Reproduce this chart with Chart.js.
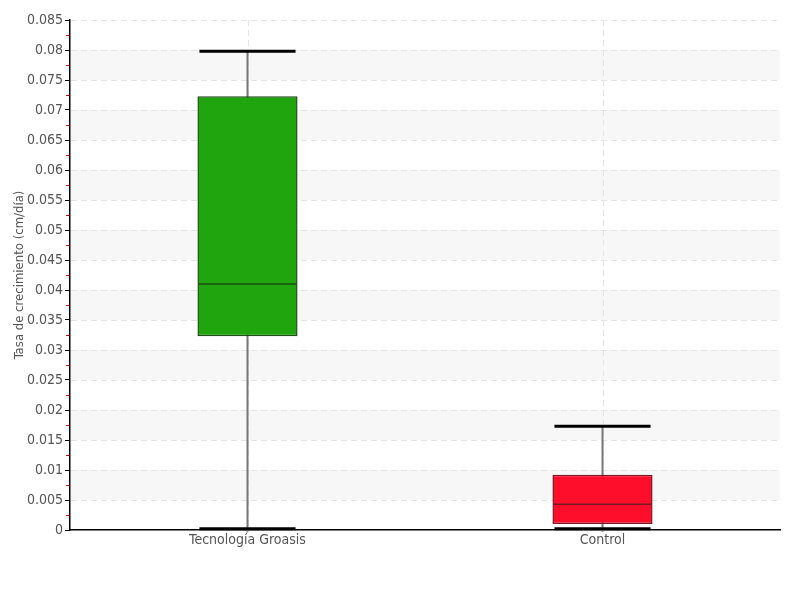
<!DOCTYPE html>
<html>
<head>
<meta charset="utf-8">
<script src="https://cdn.jsdelivr.net/npm/chart.js@4/dist/chart.umd.min.js"></script>
<style>
  html, body { margin: 0; padding: 0; background: #fff; }
  #wrap { width: 800px; height: 600px; }
</style>
</head>
<body>
<div id="wrap"><canvas id="boxChart" width="800" height="600"></canvas></div>
<script>
// box plot values
const categories = ["Tecnología Groasis", "Control"];
const minValues = [0.0002, 0.0002];
const q1Values = [0.0323, 0.0010];
const medianValues = [0.0410, 0.0043];
const q3Values = [0.0723, 0.0092];
const maxValues = [0.0798, 0.0173];
const boxColors = ["#21a50f", "#ff0e2b"];
const boxBorders = ["#1d4f16", "#7a1622"];

const yMin = 0, yMax = 0.085, yStep = 0.005;

const FONT = "'Liberation Sans Narrow', 'DejaVu Sans Condensed', 'Roboto', sans-serif";

// alternating grey bands + red minor ticks
const bandsPlugin = {
  id: "bands",
  beforeDatasetsDraw(chart) {
    const ctx = chart.ctx, area = chart.chartArea, y = chart.scales.y;
    ctx.save();
    ctx.fillStyle = "#f7f7f7";
    for (let v = 0.005; v < yMax - 1e-9; v += 0.01) {
      const top = y.getPixelForValue(v + yStep);
      const bot = y.getPixelForValue(v);
      ctx.fillRect(area.left + 1, top, area.right - area.left - 1, bot - top);
    }
    // dashed grid on top of bands
    ctx.strokeStyle = "#e4e4e4";
    ctx.lineWidth = 1;
    ctx.setLineDash([6, 4]);
    for (let v = yStep; v <= yMax + 1e-9; v += yStep) {
      const py = Math.round(y.getPixelForValue(v)) + 0.5;
      ctx.beginPath();
      ctx.moveTo(area.left + 1, py);
      ctx.lineTo(area.right, py);
      ctx.stroke();
    }
    const x = chart.scales.x;
    categories.forEach((c, i) => {
      const px = Math.round(x.getPixelForValue(i)) + 0.5;
      ctx.beginPath();
      ctx.moveTo(px, area.top);
      ctx.lineTo(px, area.bottom);
      ctx.stroke();
    });
    ctx.setLineDash([]);
    // minor ticks
    ctx.strokeStyle = "#dd0000";
    ctx.lineWidth = 1;
    for (let v = yStep / 2; v < yMax; v += yStep) {
      const py = Math.round(y.getPixelForValue(v)) + 0.5;
      ctx.beginPath();
      ctx.moveTo(area.left - 4, py);
      ctx.lineTo(area.left - 1, py);
      ctx.stroke();
    }
    ctx.restore();
  }
};

// whiskers, caps and medians
const boxPlugin = {
  id: "boxExtras",
  beforeDatasetsDraw(chart) {
    const ctx = chart.ctx, y = chart.scales.y;
    const meta = chart.getDatasetMeta(0);
    ctx.save();
    ctx.strokeStyle = "#777";
    ctx.lineWidth = 2;
    meta.data.forEach((bar, i) => {
      ctx.beginPath();
      ctx.moveTo(bar.x, y.getPixelForValue(maxValues[i]));
      ctx.lineTo(bar.x, y.getPixelForValue(minValues[i]) + 3);
      ctx.stroke();
    });
    ctx.restore();
  },
  afterDatasetsDraw(chart) {
    const ctx = chart.ctx, y = chart.scales.y;
    const meta = chart.getDatasetMeta(0);
    ctx.save();
    meta.data.forEach((bar, i) => {
      const half = bar.width / 2;
      // caps
      ctx.strokeStyle = "#000";
      ctx.lineWidth = 3;
      [maxValues[i], minValues[i]].forEach(v => {
        const py = y.getPixelForValue(v);
        ctx.beginPath();
        ctx.moveTo(bar.x - half + 2, py);
        ctx.lineTo(bar.x + half - 2, py);
        ctx.stroke();
      });
      // median
      ctx.strokeStyle = boxBorders[i];
      ctx.lineWidth = 1.5;
      const my = y.getPixelForValue(medianValues[i]);
      ctx.beginPath();
      ctx.moveTo(bar.x - half + 1, my);
      ctx.lineTo(bar.x + half - 1, my);
      ctx.stroke();
    });
    ctx.restore();
  }
};

new Chart(document.getElementById("boxChart").getContext("2d"), {
  type: "bar",
  data: {
    labels: categories,
    datasets: [{
      data: q1Values.map((q, i) => [q, q3Values[i]]),
      backgroundColor: boxColors,
      borderColor: boxBorders,
      borderWidth: 1.5,
      borderSkipped: false,
      barPercentage: 0.282,
      categoryPercentage: 1
    }]
  },
  plugins: [bandsPlugin, boxPlugin],
  options: {
    responsive: false,
    animation: false,
    layout: { padding: { left: 12, right: 20, top: 20, bottom: 40 } },
    plugins: {
      legend: { display: false },
      tooltip: { enabled: false }
    },
    scales: {
      x: {
        offset: true,
        grid: { display: false, offset: false },
        border: { display: true, color: "#000", width: 1.5 },
        ticks: { color: "#555", font: { family: FONT, size: 14 }, padding: -6 },
        afterFit(scale) { scale.height = 30; }
      },
      y: {
        min: yMin,
        max: yMax,
        grid: { display: true, color: "transparent", tickColor: "#000", tickLength: 5, drawOnChartArea: false },
        border: { display: true, color: "#000", width: 1.5 },
        ticks: {
          stepSize: yStep,
          color: "#555",
          padding: 2,
          font: { family: FONT, size: 14 },
          callback: v => String(+v.toFixed(4))
        },
        title: {
          display: true,
          text: "Tasa de crecimiento (cm/día)",
          color: "#555",
          font: { family: FONT, size: 13 },
          padding: 0
        },
        afterFit(scale) { scale.width = 58; }
      }
    }
  }
});
</script>
</body>
</html>
